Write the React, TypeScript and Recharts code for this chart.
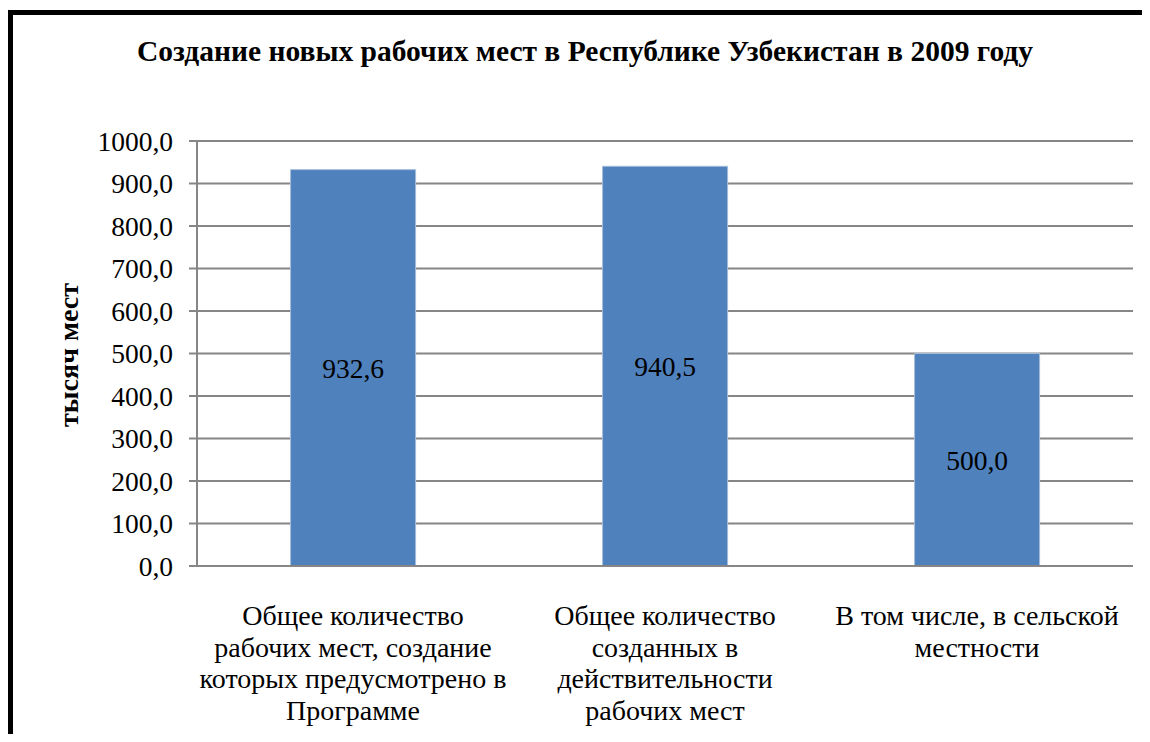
import { BarChart, Bar, XAxis, YAxis, CartesianGrid, LabelList } from 'recharts'

const categories = [
  'Общее количество рабочих мест, создание которых предусмотрено в Программе',
  'Общее количество созданных в действительности рабочих мест',
  'В том числе, в сельской местности'
]
// how each category label is broken into lines
const categoryLines = [
  ['Общее количество', 'рабочих мест, создание', 'которых предусмотрено в', 'Программе'],
  ['Общее количество', 'созданных в', 'действительности', 'рабочих мест'],
  ['В том числе, в сельской', 'местности']
]
const jobs = [932.6, 940.5, 500.0]
const yTicks = [0, 100, 200, 300, 400, 500, 600, 700, 800, 900, 1000]

const title = 'Создание новых рабочих мест в Республике Узбекистан в 2009 году'
const yTitle = 'тысяч мест'

const data = categories.map((name, i) => ({ name, value: jobs[i] }))

const FONT = 'Liberation Serif, Times New Roman, serif'
const GRID = '#868686'

const fmt = (v: number) => v.toFixed(1).replace('.', ',')

function CategoryTick(props: any) {
  const { x, y, payload } = props
  const lines = categoryLines[payload.index] || [payload.value]
  return (
    <g transform={`translate(${x},${y})`}>
      {lines.map((line, i) => (
        <text key={i} x={0} y={51 + i * 31.7} textAnchor="middle" fill="#000" fontSize={28} style={{ fontFamily: FONT }}>
          {line}
        </text>
      ))}
    </g>
  )
}

export default function App() {
  return (
    <div style={{ marginTop: 2, borderLeft: '5px solid #000', borderTop: '5px solid #000', width: 1137, height: 719, background: '#fff', fontFamily: FONT }}>
      <BarChart
        width={1137}
        height={719}
        data={data}
        margin={{ top: 126, right: 17, bottom: 0, left: 84 }}
        barCategoryGap="30%"
        style={{ fontFamily: FONT }}
      >
        <text x={572} y={46} textAnchor="middle" fontSize={29.5} fontWeight="bold" fill="#000" style={{ fontFamily: FONT }}>
          {title}
        </text>
        <text
          x={55}
          y={340}
          transform="rotate(-90 55 340)"
          textAnchor="middle"
          dominantBaseline="central"
          fontSize={28}
          fontWeight="bold"
          fill="#000"
          style={{ fontFamily: FONT }}
        >
          {yTitle}
        </text>
        <CartesianGrid vertical={false} stroke={GRID} strokeWidth={2} />
        <XAxis
          dataKey="name"
          axisLine={{ stroke: GRID, strokeWidth: 2 }}
          tickLine={false}
          interval={0}
          tick={<CategoryTick />}
          height={168}
        />
        <YAxis
          width={100}
          domain={[0, 1000]}
          ticks={yTicks}
          interval={0}
          tickFormatter={fmt}
          axisLine={{ stroke: GRID, strokeWidth: 2 }}
          tickLine={{ stroke: GRID, strokeWidth: 2 }}
          tickSize={8}
          tickMargin={16}
          tick={{ fill: '#000', fontSize: 27.5, style: { fontFamily: FONT } }}
        />
        <Bar dataKey="value" fill="#4F81BD" stroke="#A3BCDB" strokeWidth={1} isAnimationActive={false}>
          <LabelList
            dataKey="value"
            position="center"
            formatter={(v: any) => fmt(Number(v))}
            fill="#000"
            fontSize={27.5}
            style={{ fontFamily: FONT }}
          />
        </Bar>
      </BarChart>
    </div>
  )
}
